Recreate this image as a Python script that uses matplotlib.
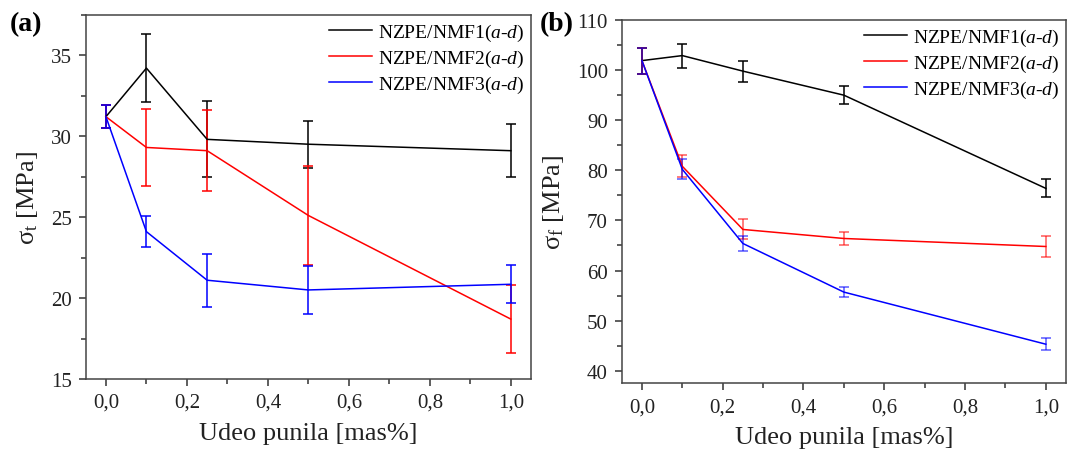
import matplotlib.pyplot as plt
from matplotlib.lines import Line2D
from matplotlib.ticker import MultipleLocator, FuncFormatter

# =========================
# Data
# =========================
udeo = [0.0, 0.1, 0.25, 0.5, 1.0]
labels = [
    r"NZPE/NMF1($\mathit{a}$-$\mathit{d}$)",
    r"NZPE/NMF2($\mathit{a}$-$\mathit{d}$)",
    r"NZPE/NMF3($\mathit{a}$-$\mathit{d}$)",
]
colors = ["black", "#ff0000", "#0000ff"]

# (a) tensile strength
sigma_t = [
    [31.2, 34.2, 29.8, 29.5, 29.1],
    [31.2, 29.3, 29.1, 25.1, 18.7],
    [31.2, 24.1, 21.1, 20.5, 20.85],
]
sigma_t_err = [
    [0.7, 2.1, 2.35, 1.45, 1.65],
    [0.7, 2.35, 2.5, 3.05, 2.1],
    [0.72, 0.97, 1.65, 1.5, 1.18],
]

# (b) flexural strength
sigma_f = [
    [101.9, 102.9, 99.8, 95.0, 76.4],
    [101.9, 80.8, 68.2, 66.4, 64.8],
    [101.9, 80.2, 65.4, 55.7, 45.3],
]
sigma_f_err = [
    [2.6, 2.4, 2.1, 1.75, 1.8],
    [2.6, 2.2, 2.0, 1.35, 2.0],
    [2.6, 2.0, 1.5, 1.0, 1.15],
]

# =========================
# Style
# =========================
plt.rcParams["font.family"] = ["Liberation Serif", "DejaVu Serif"]
plt.rcParams["mathtext.fontset"] = "custom"
plt.rcParams["mathtext.rm"] = "Liberation Serif"
plt.rcParams["mathtext.it"] = "Liberation Serif:italic"

fig = plt.figure(figsize=(10.67, 4.52), dpi=100)
ax_a = fig.add_axes([0.0803, 0.1593, 0.4174, 0.806])
ax_b = fig.add_axes([0.5827, 0.1498, 0.4164, 0.8037])

comma = FuncFormatter(lambda v, pos: f"{v:.1f}".replace(".", ","))


def draw_panel(ax, y, yerr, ylim, ymajor, yminor, ylabel, tag, tag_x, err_alpha):
    for vals, errs, c in zip(y, yerr, colors):
        eb = ax.errorbar(udeo, vals, yerr=errs, color=c, lw=1.1, elinewidth=1.1,
                         capsize=3.5, capthick=1.1)
        if c != "black":
            for part in eb[1] + eb[2]:
                part.set_alpha(err_alpha)
    ax.set_xlim(-0.05, 1.05)
    ax.set_ylim(*ylim)
    ax.xaxis.set_major_locator(MultipleLocator(0.2))
    ax.xaxis.set_minor_locator(MultipleLocator(0.1))
    ax.xaxis.set_major_formatter(comma)
    ax.yaxis.set_major_locator(MultipleLocator(ymajor))
    ax.yaxis.set_minor_locator(MultipleLocator(yminor))
    ax.tick_params(which="both", direction="out", labelsize=15, width=1.1,
                   colors="#333333", labelcolor="#222222")
    ax.tick_params(which="major", length=5, pad=5)
    ax.tick_params(which="minor", length=3.5)
    for s in ax.spines.values():
        s.set_color("#444444")
        s.set_linewidth(1.1)
    ax.set_xlabel("Udeo punila [mas%]", fontsize=19, color="#222222", labelpad=7)
    ax.set_ylabel(ylabel, fontsize=19, color="#222222", labelpad=8)
    handles = [Line2D([], [], color=c, lw=1.1) for c in colors]
    ax.legend(handles, labels, loc="upper right", frameon=False, fontsize=14,
              handlelength=2.2, labelspacing=0.25, borderaxespad=0.15,
              handletextpad=0.3, borderpad=0.2)
    fig.text(tag_x, 0.945, tag, fontsize=20, fontweight="bold", va="center")


draw_panel(ax_a, sigma_t, sigma_t_err, (15, 37.5), 5, 2.5,
           r"σ$_\mathrm{t}$ [MPa]", "(a)", 0.009, 1.0)
draw_panel(ax_b, sigma_f, sigma_f_err, (37.5, 110), 10, 5,
           r"σ$_\mathrm{f}$ [MPa]", "(b)", 0.506, 0.65)

fig.savefig("out.png", dpi=100)
